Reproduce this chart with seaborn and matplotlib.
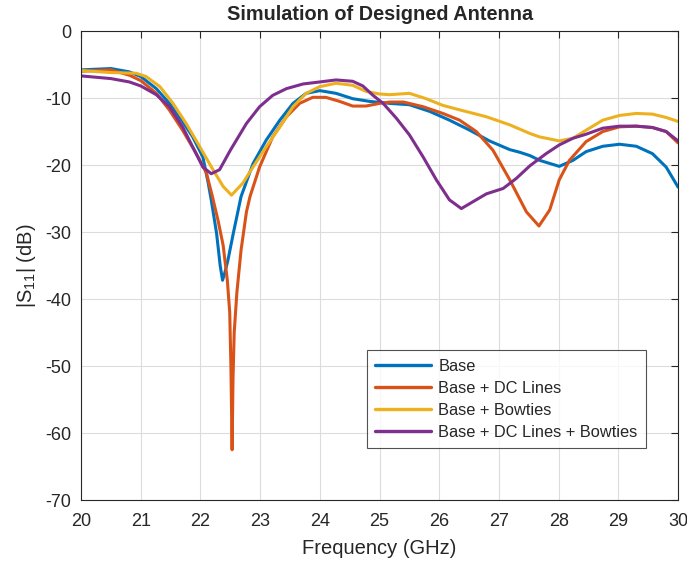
import numpy as np
import pandas as pd
import matplotlib
matplotlib.use("Agg")
import matplotlib.pyplot as plt
import seaborn as sns

series_names = ["Base", "Base + DC Lines", "Base + Bowties", "Base + DC Lines + Bowties"]

base_f = [20.0, 20.5, 20.81, 21.0, 21.26, 21.48, 21.7, 21.87, 22.04, 22.13, 22.18, 22.27, 22.33,
          22.37, 22.41, 22.46, 22.55, 22.68, 22.88, 23.1, 23.33, 23.55, 23.77, 24.0, 24.27, 24.55,
          24.83, 25.17, 25.5, 25.84, 26.17, 26.51, 26.84, 27.18, 27.35, 27.52, 27.68, 28.01, 28.24,
          28.46, 28.74, 29.02, 29.3, 29.57, 29.8, 30.0]
base_s = [-5.8, -5.6, -6.1, -6.8, -8.6, -10.8, -13.5, -15.8, -18.8, -22.7, -25.2, -30.2, -35.0,
          -37.2, -36.0, -34.2, -30.2, -24.7, -19.8, -16.3, -13.3, -10.8, -9.3, -8.9, -9.3, -10.1,
          -10.5, -10.8, -11.0, -12.0, -13.3, -14.8, -16.4, -17.7, -18.1, -18.6, -19.3, -20.2, -19.3,
          -18.0, -17.2, -16.9, -17.2, -18.3, -20.3, -23.3]

dc_f = [20.0, 20.5, 20.81, 21.0, 21.26, 21.48, 21.7, 21.93, 22.1, 22.2, 22.3, 22.38, 22.45,
        22.49, 22.51, 22.53, 22.545, 22.565, 22.61, 22.68, 22.77, 22.83, 22.99, 23.21, 23.44,
        23.66, 23.88, 24.1, 24.33, 24.55, 24.77, 25.0, 25.17, 25.4, 25.73, 26.06, 26.34, 26.62,
        26.9, 27.18, 27.46, 27.67, 27.85, 28.01, 28.18, 28.46, 28.74, 29.02, 29.3, 29.57, 29.8,
        30.0]
dc_s = [-6.0, -5.8, -6.6, -7.4, -9.3, -11.8, -14.8, -18.3, -21.2, -24.7, -28.5, -32.0, -37.2,
        -42.0, -50.0, -62.5, -52.0, -45.0, -39.0, -32.7, -27.0, -24.7, -20.3, -15.8, -12.8,
        -10.8, -9.9, -9.9, -10.5, -11.2, -11.2, -10.8, -10.6, -10.6, -11.3, -12.3, -13.3, -15.0,
        -17.8, -22.2, -27.0, -29.1, -26.7, -22.2, -19.3, -16.5, -15.0, -14.3, -14.2, -14.4, -15.0,
        -16.7]

bow_f = [20.0, 20.5, 20.92, 21.09, 21.32, 21.54, 21.76, 21.99, 22.21, 22.38, 22.52, 22.71, 22.88,
         23.1, 23.33, 23.55, 23.77, 24.0, 24.27, 24.55, 24.77, 25.0, 25.17, 25.5, 25.78, 26.06,
         26.4, 26.79, 27.18, 27.52, 27.68, 28.01, 28.24, 28.46, 28.74, 29.02, 29.3, 29.57, 29.8,
         30.0]
bow_s = [-5.9, -6.2, -6.3, -6.8, -8.3, -10.8, -13.8, -17.3, -20.7, -23.2, -24.5, -22.7, -20.3,
         -17.3, -14.3, -11.3, -9.3, -8.3, -7.8, -8.1, -9.0, -9.4, -9.5, -9.3, -10.1, -11.1,
         -11.9, -12.8, -14.0, -15.3, -15.8, -16.4, -16.0, -14.8, -13.3, -12.6, -12.3, -12.4, -12.9,
         -13.5]

dcbow_f = [20.0, 20.5, 20.81, 21.0, 21.26, 21.48, 21.7, 21.87, 22.04, 22.18, 22.32, 22.5, 22.77,
           22.99, 23.21, 23.44, 23.72, 24.0, 24.27, 24.55, 24.72, 24.89, 25.06, 25.28, 25.5,
           25.73, 25.95, 26.17, 26.37, 26.56, 26.79, 27.07, 27.29, 27.52, 27.79, 28.01, 28.24,
           28.46, 28.74, 29.02, 29.3, 29.57, 29.8, 30.0]
dcbow_s = [-6.7, -7.1, -7.6, -8.2, -9.5, -11.3, -14.3, -17.3, -20.3, -21.3, -20.7, -17.8, -13.8,
           -11.3, -9.6, -8.6, -7.9, -7.6, -7.3, -7.5, -8.2, -9.6, -10.8, -13.0, -15.5,
           -18.8, -22.2, -25.2, -26.5, -25.5, -24.3, -23.5, -22.0, -20.1, -18.3, -17.0, -16.0,
           -15.4, -14.5, -14.2, -14.2, -14.4, -15.0, -16.4]

x_ticks = list(range(20, 31))
y_ticks = list(range(-70, 1, 10))

frames = []
for name, f, s in zip(series_names, [base_f, dc_f, bow_f, dcbow_f], [base_s, dc_s, bow_s, dcbow_s]):
    frames.append(pd.DataFrame({"Frequency": f, "S11": s, "Series": name}))
df = pd.concat(frames, ignore_index=True)

sns.set_style("white")
plt.rcParams["font.family"] = ["Liberation Sans", "DejaVu Sans"]
plt.rcParams["mathtext.default"] = "regular"
plt.rcParams["axes.unicode_minus"] = False

colors = ["#0072BD", "#D95319", "#EDB120", "#7E2F8E"]

fig = plt.figure(figsize=(6.87, 5.61), dpi=100)
ax = fig.add_axes([0.118, 0.1087, 0.869, 0.836])
sns.lineplot(data=df, x="Frequency", y="S11", hue="Series", hue_order=series_names,
             palette=colors, linewidth=2.2, estimator=None, ax=ax)
for ln in ax.get_lines():
    ln.set_solid_joinstyle("round")
    ln.set_solid_capstyle("round")

ax.set_xlim(20, 30)
ax.set_ylim(-70, 0)
ax.set_xticks(x_ticks)
ax.set_yticks(y_ticks)
ax.tick_params(direction="in", length=5, width=0.8, top=True, right=True,
               labelsize=13, colors="#262626")
ax.tick_params(axis="x", pad=9.5)
ax.tick_params(axis="y", pad=7)
ax.grid(True, color="#dcdcdc", linewidth=0.8)
for sp in ax.spines.values():
    sp.set_color("#262626")
    sp.set_linewidth(0.8)
ax.set_xlabel("Frequency (GHz)", fontsize=14.5, color="#262626", labelpad=6.5)
ax.set_ylabel("|S$_{11}$| (dB)", fontsize=14.5, color="#262626", labelpad=5)
ax.set_title("Simulation of Designed Antenna", fontsize=14.3, fontweight="bold", pad=8)

leg = ax.legend(loc="lower right", bbox_to_anchor=(0.946, 0.111), borderaxespad=0,
                fontsize=11.8, frameon=True, fancybox=False, handlelength=3.4,
                handletextpad=0.45, labelspacing=0.43, borderpad=0.5)
leg.get_frame().set_edgecolor("#262626")
leg.get_frame().set_linewidth(0.8)
for line in leg.get_lines():
    line.set_linewidth(2.4)

fig.savefig("out.png", dpi=100)
